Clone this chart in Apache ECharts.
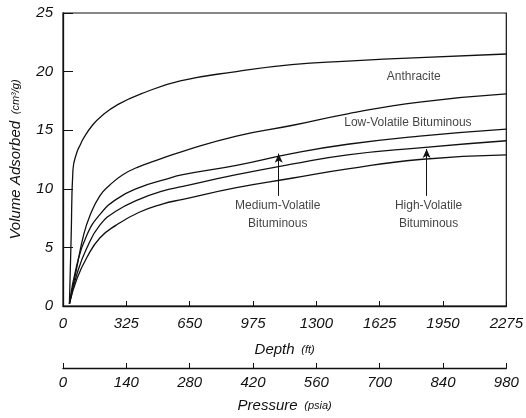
<!DOCTYPE html>
<html>
<head>
<meta charset="utf-8">
<script src="https://cdn.jsdelivr.net/npm/echarts@6/dist/echarts.min.js"></script>
<style>html,body{margin:0;padding:0;background:#fff}#c{width:526px;height:418px}</style>
</head>
<body>
<div id="c"></div>
<script>
// Depth (ft) vs Volume adsorbed (cm3/g)
var anthracite = [[33,0.2],[42,6],[51,11.6],[71,13.1],[90,13.8],[105,14.3],[150,15.4],[197,16.2],[283,17.2],[400,18.1],[602,19.2],[890,20.0],[1173,20.6],[1461,20.9],[1830,21.2],[2275,21.5]];
var lowVolatile = [[33,0.2],[71,3.3],[105,6.0],[138,7.7],[189,9.4],[239,10.3],[307,11.2],[391,11.9],[475,12.4],[615,13.2],[890,14.5],[1173,15.4],[1461,16.4],[1830,17.4],[2275,18.1]];
var curveC3 = [[33,0.2],[71,3.5],[121,6.0],[189,7.8],[273,9.1],[391,10.1],[526,10.8],[615,11.2],[890,12.0],[1173,13.0],[1461,13.8],[1830,14.5],[2275,15.1]];
var curveC4 = [[33,0.2],[71,2.7],[121,4.9],[189,6.9],[273,8.1],[391,9.1],[509,9.8],[615,10.2],[890,11.2],[1173,12.1],[1461,12.9],[1830,13.5],[2275,14.1]];
var curveC5 = [[33,0.2],[71,2.3],[121,4.1],[189,5.8],[273,6.9],[391,8.0],[509,8.7],[615,9.1],[890,10.1],[1173,10.9],[1461,11.7],[1830,12.5],[2275,12.9]];
var depthTicks = [0,325,650,975,1300,1625,1950,2275];
var pressureTicks = [0,140,280,420,560,700,840,980];
var yTicks = [0,5,10,15,20,25];
var labels = [
  {name:'Anthracite', value:[1800,19.6]},
  {name:'Low-Volatile Bituminous', value:[1770,15.6]},
  {name:'Medium-Volatile\nBituminous', value:[1102,7.8]},
  {name:'High-Volatile\nBituminous', value:[1876,7.8]}
];
var arrows = [
  [[1107,9.4],[1107,13.0]],
  [[1866,9.4],[1866,13.4]]
];

var FONT = '"Liberation Sans", Arial, Helvetica, sans-serif';
var INK = '#111';
var chart = echarts.init(document.getElementById('c'), null, {renderer:'canvas'});

function lineSeries(data){
  return {type:'line', xAxisIndex:0, yAxisIndex:0, data:data, smooth:0.5,
    symbol:'none', lineStyle:{color:INK, width:1.3}, silent:true, z:3};
}
var axisLbl = {color:INK, fontFamily:FONT, fontStyle:'italic', fontSize:15, formatter:function(v){return String(v);}};

chart.setOption({
  backgroundColor:'#fff',
  animation:false,
  grid:{left:61, right:15, top:13, bottom:106, show:true, borderColor:INK, borderWidth:1.2, backgroundColor:'transparent'},
  xAxis:[
    {type:'value', min:depthTicks[0], max:depthTicks[depthTicks.length-1], interval:depthTicks[1]-depthTicks[0],
     position:'bottom',
     axisLine:{show:true, lineStyle:{color:INK, width:1.3}},
     axisTick:{show:true, inside:true, length:5, lineStyle:{color:INK}},
     axisLabel:Object.assign({margin:10}, axisLbl),
     splitLine:{show:false},
     name:'{a|Depth}  {b|(ft)}', nameLocation:'middle', nameGap:36,
     nameTextStyle:{rich:{a:{fontFamily:FONT, fontStyle:'italic', fontSize:15, color:INK}, b:{fontFamily:FONT, fontStyle:'italic', fontSize:11, color:INK}}}
    },
    {type:'value', min:pressureTicks[0], max:pressureTicks[pressureTicks.length-1], interval:pressureTicks[1]-pressureTicks[0],
     position:'bottom', offset:62,
     axisLine:{show:true, onZero:false, lineStyle:{color:INK, width:1.3}},
     axisTick:{show:true, inside:true, length:5, lineStyle:{color:INK}},
     axisLabel:Object.assign({margin:7}, axisLbl),
     splitLine:{show:false},
     name:'{a|Pressure}  {b|(psia)}', nameLocation:'middle', nameGap:30,
     nameTextStyle:{rich:{a:{fontFamily:FONT, fontStyle:'italic', fontSize:15, color:INK}, b:{fontFamily:FONT, fontStyle:'italic', fontSize:11, color:INK}}}
    }
  ],
  yAxis:[{type:'value', min:yTicks[0], max:yTicks[yTicks.length-1], interval:yTicks[1]-yTicks[0],
     axisLine:{show:true, lineStyle:{color:INK, width:1.3}},
     axisTick:{show:true, inside:true, length:10, lineStyle:{color:INK}},
     axisLabel:Object.assign({margin:10}, axisLbl),
     splitLine:{show:false},
     name:'{a|Volume Adsorbed}  {b|(cm³/g)}', nameLocation:'middle', nameGap:40, nameRotate:90,
     nameTextStyle:{rich:{a:{fontFamily:FONT, fontStyle:'italic', fontSize:15, color:INK}, b:{fontFamily:FONT, fontStyle:'italic', fontSize:11, color:INK}}}
  }],
  series:[
    lineSeries(anthracite),
    lineSeries(lowVolatile),
    lineSeries(curveC3),
    lineSeries(curveC4),
    lineSeries(curveC5),
    {type:'scatter', xAxisIndex:0, yAxisIndex:0, data:labels, symbolSize:0, silent:true, z:5,
     label:{show:true, position:'inside', formatter:function(p){return p.name;}, color:INK, fontFamily:FONT, fontSize:12, lineHeight:18, align:'center', verticalAlign:'middle'}},
    {type:'line', xAxisIndex:0, yAxisIndex:0, data:[], silent:true,
     markLine:{silent:true, symbol:['none','arrow'], symbolSize:[6,9], label:{show:false},
       lineStyle:{color:INK, width:1, type:'solid'},
       data:arrows.map(function(a){return [{coord:a[0]},{coord:a[1]}];})}}
  ]
});
</script>
</body>
</html>
